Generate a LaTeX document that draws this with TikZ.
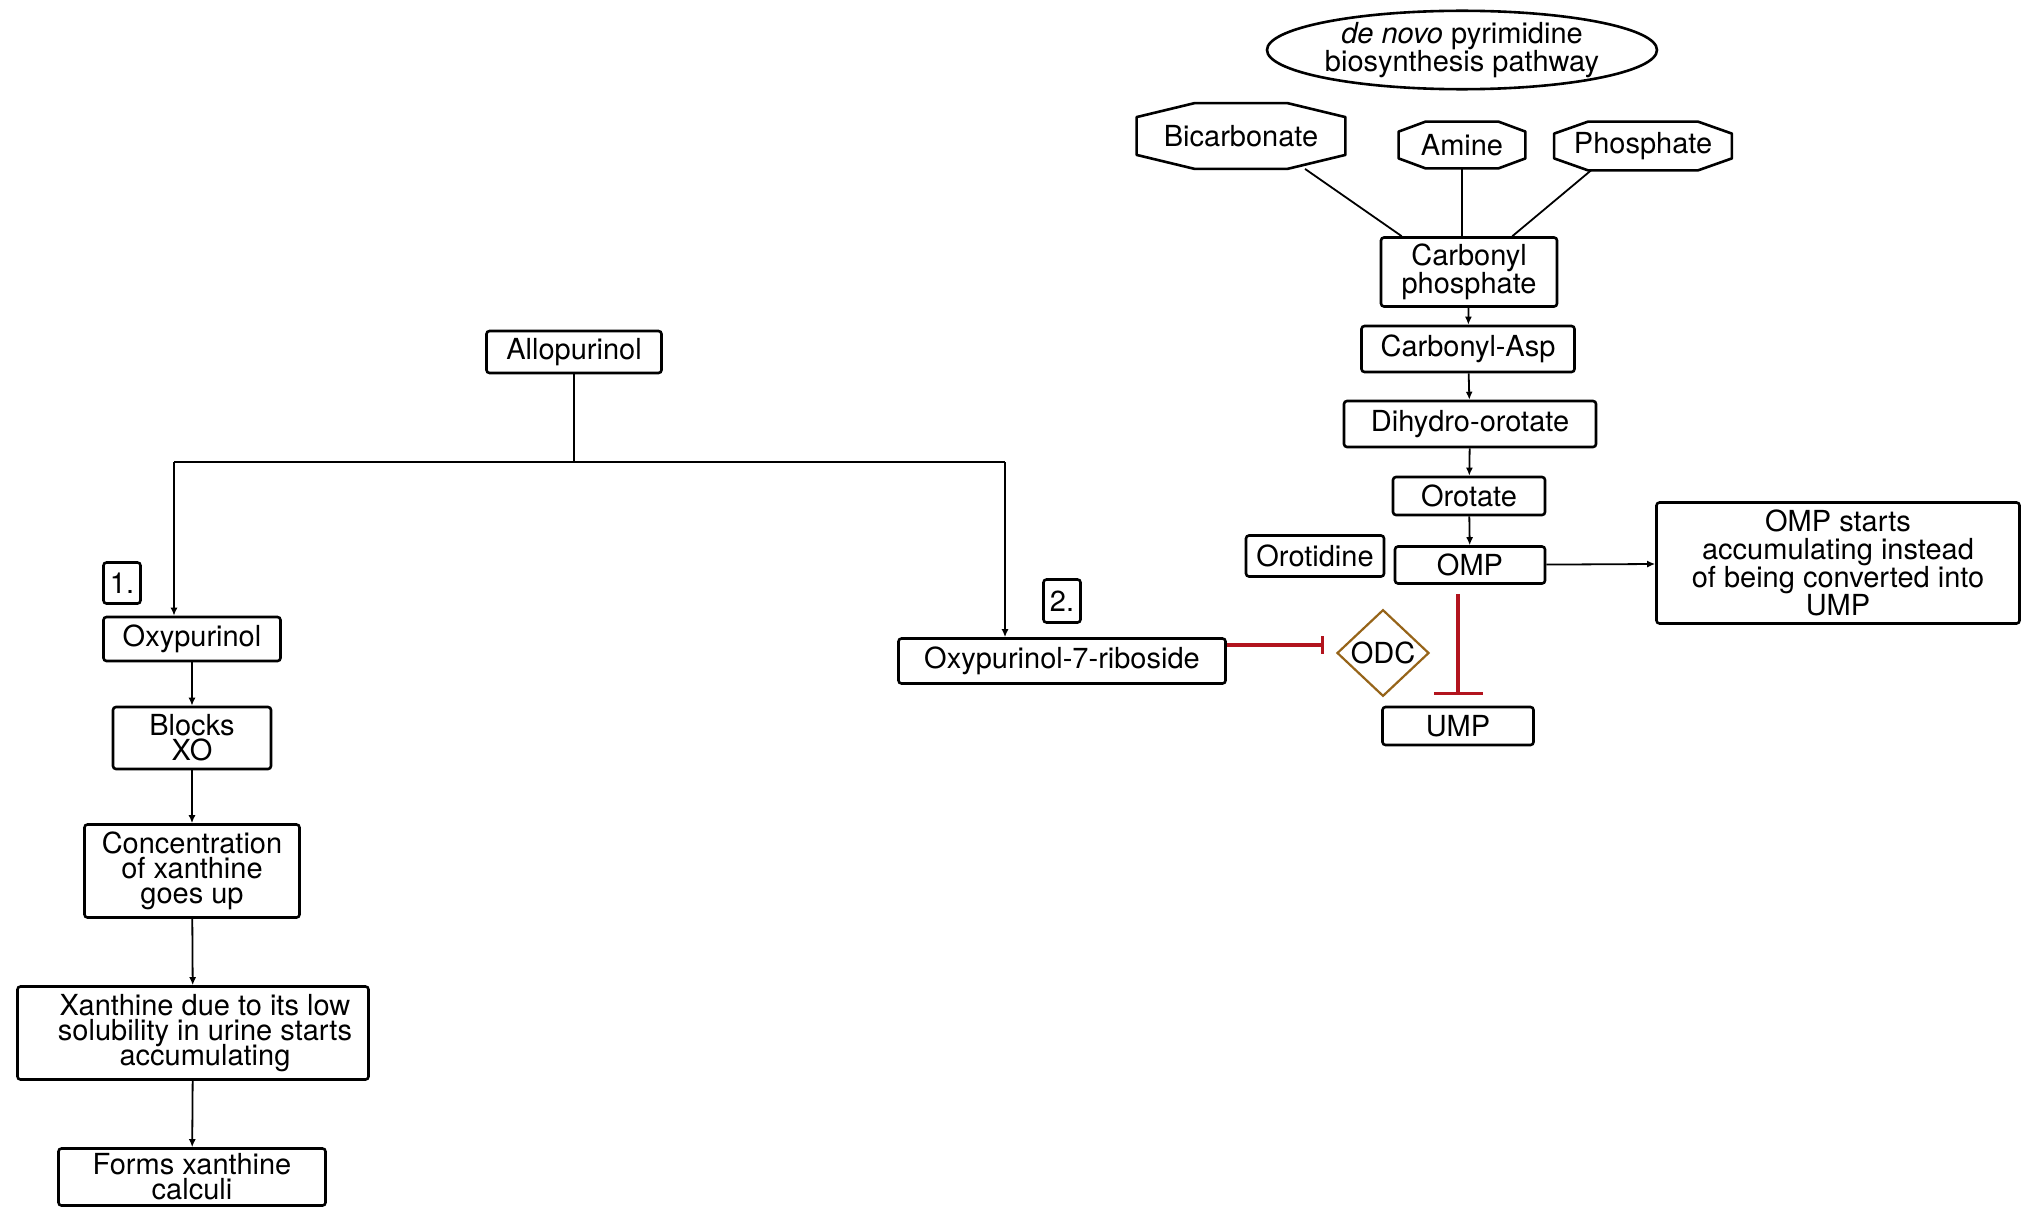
\documentclass[tikz,border=0pt]{standalone}
\usepackage{fontspec}
\setmainfont{TeX Gyre Heros}
\usepackage{tikz}
\usetikzlibrary{arrows.meta,shapes.geometric}

\definecolor{inhred}{RGB}{178,20,30}
\definecolor{odcgold}{RGB}{150,100,25}

\begin{document}
\begin{tikzpicture}[x=0.5pt,y=-0.5pt,
  txt/.style={font={\fontsize{14.5}{12.5}\selectfont\lineskiplimit=-20pt}},
  txtr/.style={font={\fontsize{14.5}{14}\selectfont\lineskiplimit=-20pt}},
  box/.style={draw,line width=1.3pt,rounded corners=1.5pt,inner sep=0pt,align=center},
  octa/.style={inner sep=0pt,txtr},
  line/.style={line width=0.9pt},
  arr/.style={line width=0.9pt,-{Latex[length=4pt,width=3.5pt]}},
  inhib/.style={line width=1.6pt,inhred}]
 \useasboundingbox (0,0) rectangle (2032,1220);

 % de novo pathway
 \node [draw,ellipse,line width=1.3pt,inner sep=0pt,minimum width=195pt,minimum height=36.5pt,align=center,txtr] (path) at (1462,50) {\textit{de novo} pyrimidine\\biosynthesis pathway};
 \node [octa,minimum width=104pt,minimum height=32.5pt] (bicarb) at (1241,136) {Bicarbonate};
 \node [octa,minimum width=63pt,minimum height=23pt] (amine) at (1462,145) {Amine};
 \node [octa,minimum width=88.5pt,minimum height=24pt] (phos) at (1643,146) {Phosphate};
 \foreach \n/\cx/\cy in {bicarb/29pt/7pt,amine/13.5pt/5pt,phos/17pt/6pt}
  \draw[line width=1.3pt,line join=round] ([xshift=\cx]\n.north west) -- ([xshift=-\cx]\n.north east)
   -- ([yshift=-\cy]\n.north east) -- ([yshift=\cy]\n.south east) -- ([xshift=-\cx]\n.south east)
   -- ([xshift=\cx]\n.south west) -- ([yshift=\cy]\n.south west) -- ([yshift=-\cy]\n.north west) -- cycle;
 \node [box,txtr,minimum width=88pt,minimum height=34.5pt] (carbp) at (1469,272) {Carbonyl\\phosphate};
 \node [box,txtr,minimum width=106.5pt,minimum height=23pt] (casp) at (1468,349) {Carbonyl-Asp};
 \node [box,txtr,minimum width=126pt,minimum height=23pt] (dho) at (1470,424) {Dihydro-orotate};
 \node [box,txtr,minimum width=76pt,minimum height=19pt] (orot) at (1469,496) {Orotate};
 \node [box,txtr,minimum width=69pt,minimum height=20.5pt] (orotid) at (1315,556) {Orotidine};
 \node [box,txtr,minimum width=75pt,minimum height=18.5pt] (omp) at (1470,565) {OMP};
 \node [box,txtr,minimum width=181.5pt,minimum height=60.5pt] (ompacc) at (1838,563) {OMP starts\\accumulating instead\\of being converted into\\UMP};
 \node [draw=odcgold,diamond,line width=1.1pt,inner sep=0pt,minimum width=46pt,minimum height=30.5pt,txtr] (odc) at (1383,653) {ODC};
 \node [box,txtr,minimum width=75.5pt,minimum height=19pt] (ump) at (1458,726) {UMP};

 \draw[line] ([xshift=32pt]bicarb.south) -- ([xshift=11pt]carbp.north west);
 \draw[line] (amine.south) -- (amine.south |- carbp.north);
 \draw[line] ([xshift=-26pt]phos.south) -- ([xshift=-23pt]carbp.north east);
 \draw[arr] (carbp) -- (casp);
 \draw[arr] (casp) -- (dho);
 \draw[arr] (dho) -- (orot);
 \draw[arr] (orot) -- (omp);
 \draw[arr] (omp) -- (ompacc);

 % allopurinol
 \node [box,txt,minimum width=87.5pt,minimum height=21pt] (allo) at (574,352) {Allopurinol};
 \node [box,txt,minimum width=18.5pt,minimum height=20.5pt] (one) at (122,583) {1.};
 \node [box,txt,minimum width=88.5pt,minimum height=22pt] (oxy) at (192,639) {Oxypurinol};
 \node [box,txt,minimum width=79pt,minimum height=31pt] (blocks) at (192,738) {Blocks\\XO};
 \node [box,txt,minimum width=107.5pt,minimum height=46.5pt] (conc) at (192,871) {Concentration\\of xanthine\\goes up};
 \node [box,txt,minimum width=175.5pt,minimum height=46.5pt] (xan) at (193,1033) {\hspace*{12pt}Xanthine due to its low\\\hspace*{12pt}solubility in urine starts\\\hspace*{12pt}accumulating};
 \node [box,txt,minimum width=133.5pt,minimum height=28.5pt] (forms) at (192,1177) {Forms xanthine\\calculi};
 \node [box,txtr,minimum width=18.5pt,minimum height=21.5pt] (two) at (1062,601) {2.};
 \node [box,txtr,minimum width=163.5pt,minimum height=22.5pt] (ribo) at (1062,661) {Oxypurinol-7-riboside};

 \coordinate (split) at (574,462);
 \coordinate (bl) at (174,462);
 \coordinate (br) at (1005,462);
 \draw[line] (allo) -- (split);
 \draw[line] (bl) -- (br);
 \draw[arr] (bl) -- (bl |- oxy.north);
 \draw[arr] (br) -- (br |- ribo.north);
 \draw[arr] (oxy) -- (blocks);
 \draw[arr] (blocks) -- (conc);
 \draw[arr] (conc) -- (xan);
 \draw[arr] (xan) -- (forms);

 % inhibition of ODC
 \draw[inhib,-{Bar[width=9pt]},shorten >=6pt] ([yshift=8pt]ribo.east) -- ([yshift=8pt]ribo.east -| odc.west);
 \draw[inhib,-{Bar[width=24.5pt]},shorten <=4.5pt,shorten >=5.5pt] (omp.south -| ump.north) -- (ump.north);
\end{tikzpicture}
\end{document}
